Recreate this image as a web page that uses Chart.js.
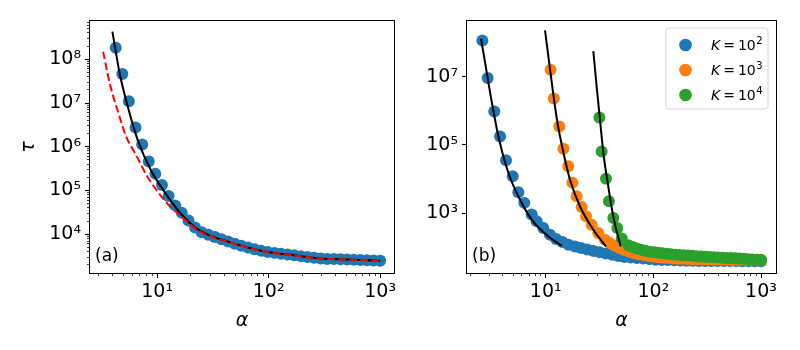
<!DOCTYPE html>
<html>
<head>
<meta charset="utf-8">
<title>tau vs alpha</title>
<script src="https://cdn.jsdelivr.net/npm/chart.js@4.4.0/dist/chart.umd.min.js"></script>
<style>
  body { margin: 0; background: #fff; }
  .panel { position: absolute; top: 0; width: 400px; height: 350px; }
  #left { left: 0; }
  #right { left: 400px; }
</style>
</head>
<body>
<div class="panel" id="left"><canvas id="chartA" width="400" height="350"></canvas></div>
<div class="panel" id="right"><canvas id="chartB" width="400" height="350"></canvas></div>
<script>
// panel (a): simulation points, fit (black) and approximation (red dashed)
const alphaA = [4.25, 4.87, 5.58, 6.40, 7.34, 8.41, 9.64, 11.05, 12.67, 14.52, 16.64, 19.08, 21.87, 25.07, 28.74, 32.94, 37.76, 43.28, 49.61, 56.87, 65.19, 74.7, 85.7, 98.2, 112.6, 129.0, 147.9, 169.5, 194.3, 222.7, 255.3, 292.7, 335.5, 384.6, 440.8, 505.3, 579.2, 663.9, 761.0, 872.4, 1000];
const tauA = [1.84e8, 4.6e7, 1.1e7, 2.74e6, 1.12e6, 4.6e5, 2.4e5, 1.33e5, 7.45e4, 4.57e4, 3.08e4, 2.06e4, 1.43e4, 1.11e4, 9680, 8600, 7650, 6790, 6030, 5450, 4970, 4560, 4180, 3915, 3750, 3590, 3440, 3300, 3160, 3030, 2900, 2780, 2730, 2700, 2670, 2640, 2605, 2575, 2545, 2520, 2490];
const fitAX = [3.97, 4.61, 5.46, 6.7, 8.8, 11.9, 16.7, 21.9, 28.7, 43.3, 65.2, 98.2, 169.5, 292.7, 505, 1000];
const fitAY = [4.3e8, 4.8e7, 8.2e6, 1.42e6, 2.9e5, 8.6e4, 2.75e4, 1.43e4, 9680, 6790, 4970, 3915, 3300, 2780, 2640, 2490];
const redAX = [3.28, 3.76, 4.46, 5.28, 6.47, 8.2, 10.4, 13.2, 16.7, 21.9, 28.7, 43.3, 65.2, 98.2, 169.5, 292.7, 505, 1000];
const redAY = [1.49e8, 2.8e7, 6.3e6, 1.7e6, 6.5e5, 2.06e5, 8.6e4, 4.2e4, 2.5e4, 1.36e4, 9400, 6700, 4950, 3900, 3290, 2775, 2635, 2485];

// panel (b): three values of K
const kExp = [2, 3, 4];
const kColors = ['#1f77b4', '#ff7f0e', '#2ca02c'];
const alphaK2 = [2.58, 2.89, 3.33, 3.77, 4.28, 4.94, 5.57, 6.33, 7.41, 8.25, 9.5, 10.96, 12.5, 14.3, 16.3, 18.7, 21.3, 24.3, 27.8, 31.7, 36.2, 41.4, 47.2, 53.9, 61.6, 70.3, 80.3, 91.7, 104.7, 119.6, 136.5, 156, 178, 203, 232, 265, 303, 346, 395, 451, 515, 588, 672, 767, 876, 1000];
const tauK2 = [1.15e8, 9.2e6, 9.6e5, 1.77e5, 3.6e4, 1.22e4, 4150, 2020, 916, 582, 372, 237, 177, 145, 120, 107, 96, 87.9, 79.3, 72.9, 67, 61.5, 56.6, 52.6, 50.7, 49, 47.2, 45.6, 44, 43.2, 42.7, 42.1, 41.6, 41, 40.6, 40.5, 40.4, 40.3, 40.2, 40.1, 40, 39.9, 39.8, 39.7, 39.6, 39.5];
const alphaK3 = [11.1, 11.9, 13.4, 14.6, 16.2, 17.7, 19.4, 21.6, 23.7, 26.7, 30.8, 35.5, 39.4, 43.7, 48.5, 53.8, 59.8, 66.4, 73.6, 81.7, 90.7, 100.7, 111.7, 124, 137.7, 152.8, 169.6, 188.3, 209, 232, 257.5, 285.8, 317.3, 352.2, 390.9, 433.9, 481.6, 534.6, 593.4, 658.6, 731, 811.5, 900.8, 1000];
const tauK3 = [1.6e7, 2.3e6, 3.5e5, 7.8e4, 2.4e4, 7830, 3160, 1540, 817, 466, 265, 168, 135, 112, 96, 84, 75, 68, 63, 59, 56, 53.5, 51.5, 50, 48.8, 47.8, 47, 46.4, 45.9, 45.5, 45.2, 44.9, 44.7, 44.5, 44.3, 44.2, 44.1, 44, 43.9, 43.8, 43.7, 43.6, 43.5, 43.4];
const alphaK4 = [31.5, 33.1, 36.3, 38.7, 42.5, 46.3, 50.8, 58.5, 64.1, 70.2, 76.9, 84.3, 92.4, 101.2, 110.9, 121.6, 133.3, 146.1, 160, 175.4, 192.3, 210.8, 230.7, 252.9, 277.3, 304, 332.7, 364.8, 400, 438.5, 479.7, 526, 576.8, 632.4, 693.4, 760.3, 831.8, 912, 1000];
const tauK4 = [6.4e5, 6.4e4, 1.03e4, 2250, 733, 372, 184, 117, 104, 93, 86.5, 80.3, 74.5, 72, 69.7, 67.5, 65.3, 63.2, 61.6, 60.4, 59.2, 58, 56.8, 55.6, 54.5, 53.3, 52.5, 51.7, 51, 50.2, 49.5, 48.8, 48.2, 47.5, 46.6, 45.6, 44.8, 43.9, 43];
const fitK2X = [2.51, 2.7, 3.16, 3.63, 4.5, 5.57, 7.41, 10.6, 14.1];
const fitK2Y = [1.29e8, 3.3e7, 1.77e6, 1.84e5, 1.54e4, 3160, 653, 211, 112];
const fitK3X = [9.86, 10.96, 12.7, 14.6, 16.8, 20.8, 27.7, 36.3];
const fitK3Y = [2.25e8, 1.68e7, 5.7e5, 6e4, 9800, 1607, 331, 107];
const fitK4X = [27.7, 29.7, 31.9, 34.3, 38.1, 42.5, 49.7];
const fitK4Y = [5.6e7, 5.4e6, 5.7e5, 6e4, 6200, 794, 107];

Chart.defaults.font.family = "'DejaVu Sans', sans-serif";
Chart.defaults.color = '#000';

const SUP = '⁰¹²³⁴⁵⁶⁷⁸⁹';

function powLabel(v) {
    const e = Math.round(Math.log10(v));
    if (Math.abs(v - Math.pow(10, e)) > 1e-6 * v) return '';
    return '10' + String(e).split('').map(d => SUP[d]).join('');
}

function logTicks(min, max, minors, decadeStep) {
    const ticks = [];
    for (let e = Math.floor(Math.log10(min)); e <= Math.ceil(Math.log10(max)); e++) {
        for (let m = 1; m <= 9; m++) {
            if (m > 1 && !minors) continue;
            if (m === 1 && decadeStep === 2 && e % 2 === 0) continue;
            const v = m * Math.pow(10, e);
            if (v >= min && v <= max) ticks.push({ value: v, major: m === 1 });
        }
    }
    return ticks;
}

function toPoints(xs, ys) {
    return xs.map((x, i) => ({ x: x, y: ys[i] }));
}

function lineSet(xs, ys, color, dash, order) {
    return {
        data: toPoints(xs, ys),
        showLine: true,
        borderColor: color,
        borderWidth: 2,
        borderDash: dash,
        pointRadius: 0,
        cubicInterpolationMode: 'monotone',
        order: order
    };
}

function dotSet(xs, ys, color, order) {
    return {
        data: toPoints(xs, ys),
        showLine: false,
        backgroundColor: color,
        pointBackgroundColor: color,
        pointBorderWidth: 0,
        pointRadius: 6,
        order: order
    };
}

function xAxis(min, max) {
    return {
        type: 'logarithmic',
        position: 'bottom',
        min: min,
        max: max,
        afterBuildTicks: s => { s.ticks = logTicks(min, max, true, 1); },
        afterFit: s => { s.height = 77; },
        border: { display: false },
        grid: {
            drawOnChartArea: false,
            tickLength: 5,
            tickColor: '#000',
            tickWidth: c => (c.tick && c.tick.major ? 1.1 : 0.8),
            tickBorderDash: c => (c.tick && c.tick.major ? [] : [3, 20])
        },
        ticks: {
            color: '#000',
            font: { size: 19 },
            padding: 3,
            autoSkip: false,
            maxRotation: 0,
            callback: v => powLabel(v)
        },
        title: {
            display: true,
            text: 'α',
            color: '#000',
            font: { size: 19, style: 'italic' },
            padding: { top: 0, bottom: 18 }
        }
    };
}

function yAxis(min, max, width, minors, step, title) {
    return {
        type: 'logarithmic',
        position: 'left',
        min: min,
        max: max,
        afterBuildTicks: s => { s.ticks = logTicks(min, max, minors, step); },
        afterFit: s => { s.width = width; },
        border: { display: false },
        grid: {
            drawOnChartArea: false,
            tickLength: 5,
            tickColor: '#000',
            tickWidth: c => (c.tick && c.tick.major ? 1.1 : 0.8),
            tickBorderDash: c => (c.tick && c.tick.major ? [] : [0, 2, 3, 20])
        },
        ticks: {
            color: '#000',
            font: { size: 19 },
            padding: 4,
            autoSkip: false,
            callback: v => powLabel(v)
        },
        title: {
            display: !!title,
            text: title || '',
            color: '#000',
            font: { size: 19, style: 'italic' },
            padding: { top: 18, bottom: 0 }
        }
    };
}

const framePlugin = {
    id: 'frame',
    afterDatasetsDraw(chart) {
        const { ctx, chartArea } = chart;
        ctx.save();
        ctx.strokeStyle = '#000';
        ctx.lineWidth = 1;
        ctx.strokeRect(chartArea.left - 0.5, chartArea.top - 0.5, chartArea.width + 1, chartArea.height + 1);
        ctx.restore();
    }
};

function panelLabel(text) {
    return {
        id: 'panelLabel',
        afterDraw(chart) {
            const { ctx, chartArea } = chart;
            ctx.save();
            ctx.font = "17px 'DejaVu Sans'";
            ctx.fillStyle = '#000';
            ctx.textBaseline = 'middle';
            ctx.fillText(text, chartArea.left + 5, chartArea.bottom - 16);
            ctx.restore();
        }
    };
}

// legend of panel (b), drawn inside the axes like matplotlib does
const kLegend = {
    id: 'kLegend',
    afterDraw(chart) {
        const { ctx, chartArea } = chart;
        const w = 102, h = 81;
        const x0 = chartArea.right - 8 - w;
        const y0 = chartArea.top + 7;
        ctx.save();
        ctx.beginPath();
        ctx.roundRect(x0, y0, w, h, 3);
        ctx.fillStyle = 'rgba(255,255,255,0.8)';
        ctx.fill();
        ctx.strokeStyle = '#d5d5d5';
        ctx.lineWidth = 1;
        ctx.stroke();
        kExp.forEach((e, i) => {
            const y = y0 + 17 + i * 25;
            ctx.beginPath();
            ctx.arc(x0 + 19.5, y, 6.3, 0, 2 * Math.PI);
            ctx.fillStyle = kColors[i];
            ctx.fill();
            ctx.fillStyle = '#000';
            ctx.textBaseline = 'alphabetic';
            const base = y + 5;
            let x = x0 + 45;
            ctx.font = "italic 14px 'DejaVu Sans'";
            ctx.fillText('K', x, base);
            x += ctx.measureText('K').width + 3;
            ctx.font = "14px 'DejaVu Sans'";
            ctx.fillText('=', x, base);
            x += ctx.measureText('=').width + 3;
            ctx.fillText('10', x, base);
            x += ctx.measureText('10').width + 0.5;
            ctx.font = "10px 'DejaVu Sans'";
            ctx.fillText(String(e), x, base - 6);
        });
        ctx.restore();
    }
};

const baseOptions = {
    responsive: false,
    animation: false,
    events: [],
    plugins: { legend: { display: false }, tooltip: { enabled: false } }
};

new Chart(document.getElementById('chartA'), {
    type: 'scatter',
    data: {
        datasets: [
            lineSet(redAX, redAY, '#ff0000', [7.7, 3.3], 0),
            lineSet(fitAX, fitAY, '#000', [], 1),
            dotSet(alphaA, tauA, kColors[0], 2)
        ]
    },
    options: Object.assign({}, baseOptions, {
        layout: { padding: { top: 21, right: 2, left: 0, bottom: 0 } },
        scales: {
            x: xAxis(2.5, 1331),
            y: yAxis(1300, 7.5e8, 90, true, 1, 'τ')
        }
    }),
    plugins: [framePlugin, panelLabel('(a)')]
});

new Chart(document.getElementById('chartB'), {
    type: 'scatter',
    data: {
        datasets: [
            lineSet(fitK2X, fitK2Y, '#000', [], 0),
            lineSet(fitK3X, fitK3Y, '#000', [], 0),
            lineSet(fitK4X, fitK4Y, '#000', [], 0),
            dotSet(alphaK4, tauK4, kColors[2], 1),
            dotSet(alphaK3, tauK3, kColors[1], 2),
            dotSet(alphaK2, tauK2, kColors[0], 3)
        ]
    },
    options: Object.assign({}, baseOptions, {
        layout: { padding: { top: 21, right: 24, left: 0, bottom: 0 } },
        scales: {
            x: xAxis(1.858, 1378),
            y: yAxis(17.9, 4.26e8, 67, false, 2, null)
        }
    }),
    plugins: [framePlugin, panelLabel('(b)'), kLegend]
});
</script>
</body>
</html>
